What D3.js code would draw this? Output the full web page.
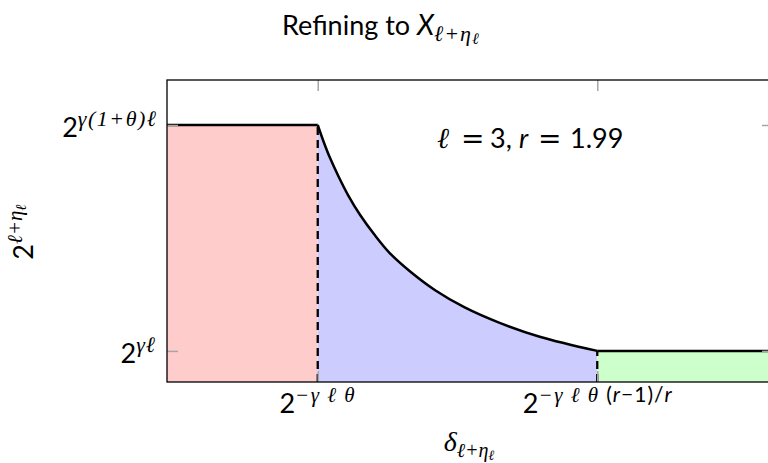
<!DOCTYPE html>
<html>
<head>
<meta charset="utf-8">
<script src="https://cdn.jsdelivr.net/npm/d3@7"></script>
<style>
  html, body { margin: 0; padding: 0; background: #fff; }
  svg { display: block; }
  .sans { font-family: Lato, "Open Sans", sans-serif; }
  .math { font-family: "Liberation Serif", "DejaVu Serif", serif; font-style: italic; }
  .rel { font-family: "DejaVu Sans", sans-serif; }
</style>
</head>
<body>
<svg id="chart" width="768" height="463"></svg>
<script>
// Axis extents (abstract units)
const xDomain = [0, 8];
const yDomain = [0, 10];

// Break points on the horizontal axis
const xTicks = [1.99, 5.68];
// Levels on the vertical axis: 2^{γℓ}, 2^{γ(1+θ)ℓ}
const yTicks = [1.03, 8.51];

// Decreasing middle branch of the boundary
const curveX = [1.99, 2.07, 2.15, 2.26, 2.39, 2.55, 2.75, 2.94, 3.21, 3.54, 3.93, 4.40, 4.92, 5.68];
const curveY = [8.51, 7.94, 7.43, 6.83, 6.19, 5.53, 4.84, 4.27, 3.66, 3.04, 2.47, 1.95, 1.50, 1.03];

const m = { left: 167, right: 773, top: 80, bottom: 382 };

const svg = d3.select("#chart");
const x = d3.scaleLinear().domain(xDomain).range([m.left, m.right]);
const y = d3.scaleLinear().domain(yDomain).range([m.bottom, m.top]);

svg.append("clipPath").attr("id", "plot")
  .append("rect").attr("x", m.left).attr("y", m.top)
  .attr("width", m.right - m.left).attr("height", m.bottom - m.top);

const g = svg.append("g").attr("clip-path", "url(#plot)");

const curvePts = curveX.map((v, i) => [v, curveY[i]]);
const smooth = d3.curveCatmullRom.alpha(0.5);
const area = d3.area().x(d => x(d[0])).y0(y(0)).y1(d => y(d[1]));

// Red region: left of the first break
g.append("path")
  .attr("d", area([[xDomain[0], yTicks[1]], [xTicks[0], yTicks[1]]]))
  .attr("fill", "#ffcccc");

// Blue region: under the decreasing branch
g.append("path")
  .attr("d", d3.area().x(d => x(d[0])).y0(y(0)).y1(d => y(d[1])).curve(smooth)(curvePts))
  .attr("fill", "#ccccff");

// Green region: right of the second break
g.append("path")
  .attr("d", area([[xTicks[1], yTicks[0]], [xDomain[1], yTicks[0]]]))
  .attr("fill", "#ccffcc");

// Dashed separators
xTicks.forEach((t, i) => {
  g.append("line")
    .attr("x1", x(t)).attr("x2", x(t))
    .attr("y1", y(0)).attr("y2", y(i === 0 ? yTicks[1] : yTicks[0]))
    .attr("stroke", "#000").attr("stroke-width", 2.3)
    .attr("stroke-dasharray", "8,5");
});

// Ticks (inward on all four sides)
const tickStyle = sel => {
  sel.select(".domain").remove();
  sel.selectAll(".tick line").attr("stroke", "#a6a6a6").attr("stroke-width", 1.5);
  sel.selectAll(".tick text").remove();
};
svg.append("g").attr("transform", `translate(0,${m.bottom})`)
  .call(d3.axisBottom(x).tickValues(xTicks).tickSizeInner(-11).tickFormat(""))
  .call(tickStyle);
svg.append("g").attr("transform", `translate(0,${m.top})`)
  .call(d3.axisTop(x).tickValues(xTicks).tickSizeInner(-11).tickFormat(""))
  .call(tickStyle);
svg.append("g").attr("transform", `translate(${m.left},0)`)
  .call(d3.axisLeft(y).tickValues(yTicks).tickSizeInner(-11).tickFormat(""))
  .call(tickStyle);
svg.append("g").attr("transform", `translate(${m.right},0)`)
  .call(d3.axisRight(y).tickValues(yTicks).tickSizeInner(-11).tickFormat(""))
  .call(tickStyle);

// Boundary line
const line = d3.line().x(d => x(d[0])).y(d => y(d[1]));
g.append("path").attr("d", line([[xDomain[0], yTicks[1]], [xTicks[0], yTicks[1]]]))
  .attr("fill", "none").attr("stroke", "#000").attr("stroke-width", 2.5);
g.append("path").attr("d", d3.line().x(d => x(d[0])).y(d => y(d[1])).curve(smooth)(curvePts))
  .attr("fill", "none").attr("stroke", "#000").attr("stroke-width", 2.5);
g.append("path").attr("d", line([[xTicks[1], yTicks[0]], [xDomain[1], yTicks[0]]]))
  .attr("fill", "none").attr("stroke", "#000").attr("stroke-width", 2.5);

// Frame
svg.append("rect")
  .attr("x", m.left).attr("y", m.top)
  .attr("width", m.right - m.left).attr("height", m.bottom - m.top)
  .attr("fill", "none").attr("stroke", "#000").attr("stroke-width", 1.3);

// Rich text helper: parts = [text, cls, dy, size, style, letterSpacing]
function rich(parent, px, py, anchor, parts, rotate) {
  const t = parent.append("text")
    .attr("x", px).attr("y", py)
    .attr("text-anchor", anchor).attr("fill", "#000");
  if (rotate) t.attr("transform", `rotate(${rotate},${px},${py})`);
  parts.forEach(p => {
    const s = t.append("tspan").text(p[0]).attr("class", p[1]);
    if (p[2]) s.attr("dy", p[2]);
    s.attr("font-size", p[3]);
    if (p[4]) s.attr("font-style", p[4]);
    if (p[5]) s.attr("letter-spacing", p[5]);
  });
  return t;
}

// Title
rich(svg, 282, 35, "start", [
  ["Refining to ", "sans", 0, 27],
  ["X", "sans", 0, 28, "italic"],
  ["\u2113+\u03b7", "math", 6, 22, null, 1],
  ["\u2113", "math", 3, 16]
]);

// Y tick labels
rich(svg, 156, 137, "end", [
  ["2", "sans", 0, 27],
  ["\u03b3", "math", -11, 22, null, 1.5],
  ["(1+", "math", 0, 22, "normal", 1.5],
  ["\u03b8", "math", 0, 22, null, 1.5],
  [")", "math", 0, 22, "normal", 1.5],
  ["\u2113", "math", 0, 22]
]);
rich(svg, 156, 363, "end", [
  ["2", "sans", 0, 27],
  ["\u03b3\u2113", "math", -11, 22, null, 1]
]);

// X tick labels
rich(svg, x(xTicks[0]), 413, "middle", [
  ["2", "sans", 0, 27],
  ["\u2212\u03b3 \u2113 \u03b8", "math", -11, 21, null, 1.5]
]);
rich(svg, x(xTicks[1]), 413, "middle", [
  ["2", "sans", 0, 27],
  ["\u2212\u03b3 \u2113 \u03b8 ", "math", -11, 21, null, 1.5],
  ["(", "sans", 0, 21, null, 1],
  ["r", "sans", 0, 21, "italic", 1],
  ["\u22121)/", "sans", 0, 21, null, 1],
  ["r", "sans", 0, 21, "italic"]
]);

// Axis titles
rich(svg, 469, 451, "middle", [
  ["\u03b4", "math", 0, 28],
  ["\u2113+\u03b7", "math", 6, 20],
  ["\u2113", "math", 3, 14]
]);
rich(svg, 33, 232, "middle", [
  ["2", "sans", 0, 27],
  ["\u2113+\u03b7", "math", -11, 21],
  ["\u2113", "math", 4, 15]
], -90);

// Annotation
const note = svg.append("text").attr("y", 148).attr("fill", "#000").attr("font-size", 27);
[
  ["\u2113", "math", 437, null, 29],
  ["=", "rel", 461, null, 28],
  ["3,", "sans", 490],
  ["r", "sans", 519, "italic"],
  ["=", "rel", 538, null, 28],
  ["1.99", "sans", 570]
].forEach(p => {
  const s = note.append("tspan").attr("x", p[2]).attr("class", p[1]).text(p[0]);
  if (p[3]) s.attr("font-style", p[3]);
  if (p[4]) s.attr("font-size", p[4]);
});
</script>
</body>
</html>
